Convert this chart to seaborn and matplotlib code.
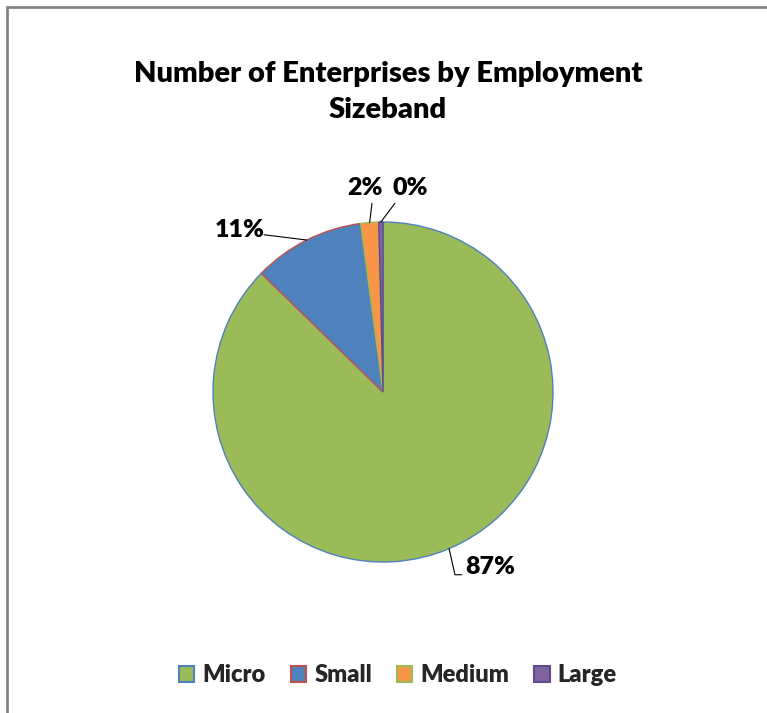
import matplotlib
matplotlib.use("Agg")
import matplotlib.pyplot as plt
import seaborn as sns
import numpy as np
from matplotlib.patches import Rectangle, Patch

sns.set_theme(style="white")
plt.rcParams['font.family'] = ['Lato', 'DejaVu Sans']

# ---- data ----
categories = ["Micro", "Small", "Medium", "Large"]
shares = [87.3, 10.6, 1.7, 0.4]
labels = ["87%", "11%", "2%", "0%"]
fill_colors = ["#9BBB59", "#4F81BD", "#F79646", "#8064A2"]
edge_colors = ["#4F81BD", "#C0504D", "#9BBB59", "#5F4B8B"]
title = "Number of Enterprises by Employment\nSizeband"

# ---- layout ----
W, H = 767, 713
fig = plt.figure(figsize=(W / 100, H / 100), dpi=100)
fig.patch.set_facecolor("white")

# chart frame (gray border)
fig.patches.append(Rectangle((7 / W, -0.1), 1.2, (H - 7) / H + 0.1,
                             transform=fig.transFigure, fill=False,
                             edgecolor="#868686", linewidth=2.0, zorder=0))

cx, cy, r = 383, 392, 170
ax = fig.add_axes([(cx - r) / W, (H - cy - r) / H, 2 * r / W, 2 * r / H])
wedges, _ = ax.pie(shares, colors=fill_colors, startangle=90, counterclock=False,
                   radius=1.0, wedgeprops=dict(linewidth=1.0))
for w, ec in zip(wedges, edge_colors):
    w.set_edgecolor(ec)
ax.set_xlim(-1, 1)
ax.set_ylim(-1, 1)
ax.set_aspect("equal")
ax.axis("off")

# label text positions (in radius units) and leader elbows
text_pos = [(0.63, -1.03), (-0.84, 0.955), (-0.105, 1.20), (0.16, 1.20)]
for i, w in enumerate(wedges):
    mid = np.deg2rad((w.theta1 + w.theta2) / 2)
    px, py = np.cos(mid), np.sin(mid)
    tx, ty = text_pos[i]
    ax.text(tx, ty, labels[i], ha="center", va="center", fontsize=18,
            fontweight="heavy", color="black", clip_on=False)
    if i == 0:
        xs = [px, px + 0.035, px + 0.075]
        ys = [py, ty - 0.045, ty - 0.045]
    elif i == 1:
        xs = [px, tx + 0.14]
        ys = [py, ty - 0.03]
    elif i == 2:
        xs = [px, tx + 0.04]
        ys = [py, ty - 0.09]
    else:
        xs = [px, tx - 0.09]
        ys = [py, ty - 0.09]
    ax.plot(xs, ys, color="black", linewidth=0.8, clip_on=False)

fig.text(388 / W, 1 - 92 / H, title, ha="center", va="center",
         fontsize=21, fontweight="heavy", color="black", linespacing=1.45)

handles = [Patch(facecolor=fc, edgecolor=ec, linewidth=1.5)
           for fc, ec in zip(fill_colors, edge_colors)]
fig.legend(handles, categories, loc="center", bbox_to_anchor=(398 / W, 1 - 675 / H),
           ncol=4, frameon=False, prop=dict(size=17, weight="heavy"),
           handlelength=0.65, handleheight=0.65, handletextpad=0.35,
           columnspacing=1.05)

fig.savefig("out.png", dpi=100, facecolor="white")
